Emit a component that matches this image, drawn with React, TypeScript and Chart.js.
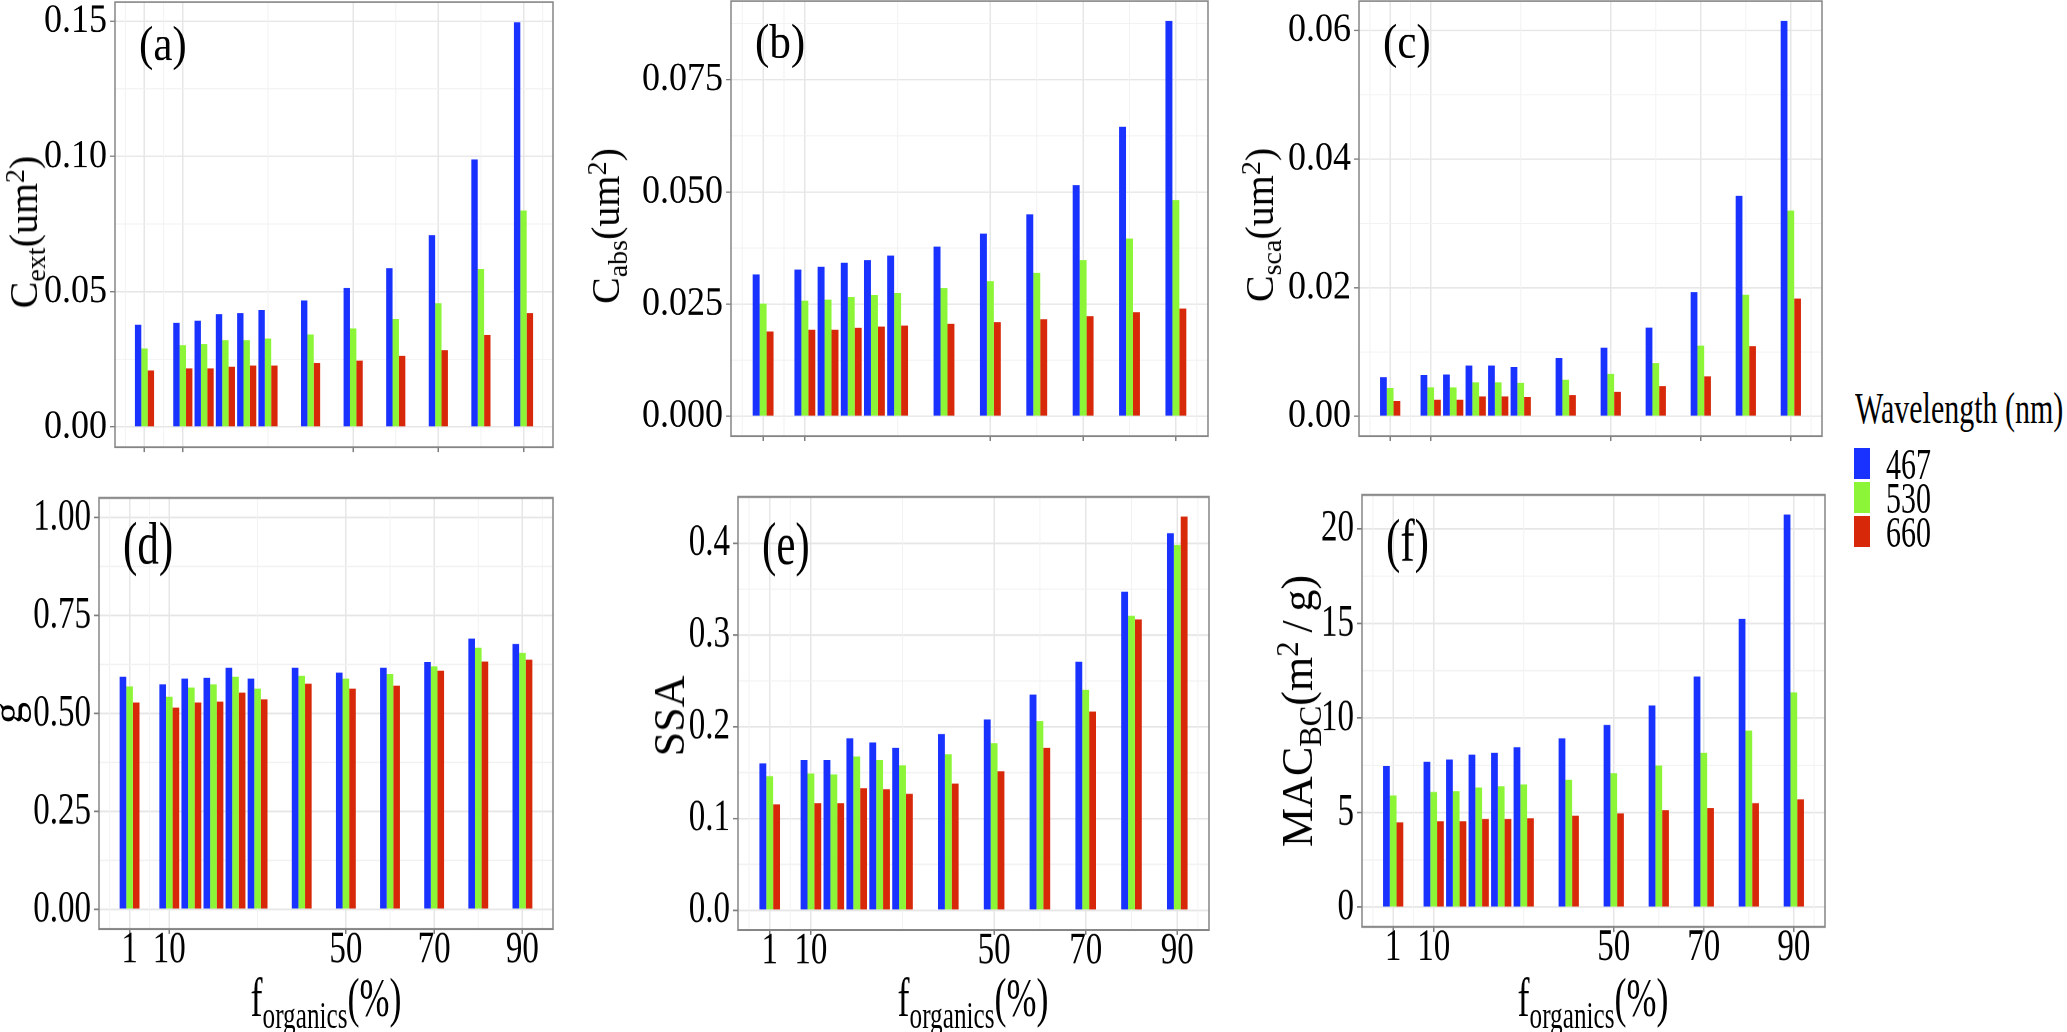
import React, { useEffect, useRef } from 'react';
import { Chart, registerables } from 'chart.js';

Chart.register(...registerables);

const FONT = "'Liberation Serif', 'Times New Roman', Times, serif";
Chart.defaults.font.family = FONT;

const BAR_COLORS = ['#1932ff', '#8cf537', '#d7280a'];

// organic mass fraction on the x axis (%)
const fOrganics = [1, 10, 15, 20, 25, 30, 40, 50, 60, 70, 80, 90];
const wavelengths = ['467', '530', '660'];
const xTicks = [1, 10, 50, 70, 90];
const xTickLabels = ['1', '10', '50', '70', '90'];
const xMinor = [-3.5, 5.5, 30, 60, 80, 94.5];

// (a) extinction cross section
const cext467 = [0.0378, 0.0385, 0.0393, 0.0417, 0.0421, 0.0432, 0.0468, 0.0514, 0.0587, 0.0709, 0.0989, 0.1496];
const cext530 = [0.029, 0.0302, 0.0306, 0.032, 0.032, 0.0327, 0.0342, 0.0364, 0.0399, 0.0457, 0.0583, 0.08];
const cext660 = [0.0209, 0.0216, 0.0216, 0.0223, 0.0227, 0.0227, 0.0237, 0.0245, 0.0263, 0.0284, 0.0341, 0.0421];
const cextTicks = [0, 0.05, 0.1, 0.15];
const cextTickLabels = ['0.00', '0.05', '0.10', '0.15'];
const cextMinor = [0.025, 0.075, 0.125];

// (b) absorption cross section
const cabs467 = [0.0316, 0.0327, 0.0333, 0.0342, 0.0348, 0.0358, 0.0378, 0.0407, 0.045, 0.0515, 0.0645, 0.0881];
const cabs530 = [0.0251, 0.0258, 0.026, 0.0266, 0.027, 0.0275, 0.0286, 0.0301, 0.032, 0.0348, 0.0396, 0.0482];
const cabs660 = [0.0189, 0.0193, 0.0193, 0.0197, 0.02, 0.0202, 0.0206, 0.021, 0.0216, 0.0223, 0.0232, 0.024];
const cabsTicks = [0, 0.025, 0.05, 0.075];
const cabsTickLabels = ['0.000', '0.025', '0.050', '0.075'];
const cabsMinor = [0.0125, 0.0375, 0.0625, 0.0875];

// (c) scattering cross section
const csca467 = [0.0061, 0.0064, 0.0065, 0.0079, 0.0079, 0.0077, 0.0091, 0.0107, 0.0138, 0.0193, 0.0343, 0.0615];
const csca530 = [0.0044, 0.0045, 0.0045, 0.0053, 0.0053, 0.0052, 0.0057, 0.0066, 0.0083, 0.011, 0.0189, 0.032];
const csca660 = [0.0024, 0.0026, 0.0026, 0.0031, 0.0031, 0.003, 0.0033, 0.0038, 0.0047, 0.0062, 0.0109, 0.0183];
const cscaTicks = [0, 0.02, 0.04, 0.06];
const cscaTickLabels = ['0.00', '0.02', '0.04', '0.06'];
const cscaMinor = [0.01, 0.03, 0.05];

// (d) asymmetry parameter
const g467 = [0.594, 0.574, 0.589, 0.591, 0.617, 0.589, 0.617, 0.604, 0.617, 0.631, 0.691, 0.677];
const g530 = [0.569, 0.543, 0.566, 0.574, 0.594, 0.563, 0.596, 0.589, 0.601, 0.62, 0.668, 0.654];
const g660 = [0.528, 0.515, 0.528, 0.53, 0.553, 0.536, 0.576, 0.563, 0.571, 0.609, 0.632, 0.637];
const gTicks = [0, 0.25, 0.5, 0.75, 1];
const gTickLabels = ['0.00', '0.25', '0.50', '0.75', '1.00'];
const gMinor = [0.125, 0.375, 0.625, 0.875];

// (e) single scattering albedo
const ssa467 = [0.16, 0.164, 0.164, 0.1875, 0.183, 0.177, 0.192, 0.208, 0.235, 0.271, 0.347, 0.411];
const ssa530 = [0.146, 0.149, 0.148, 0.1675, 0.164, 0.158, 0.17, 0.182, 0.206, 0.24, 0.321, 0.398];
const ssa660 = [0.1155, 0.1166, 0.1166, 0.133, 0.132, 0.127, 0.138, 0.1515, 0.177, 0.2165, 0.317, 0.429];
const ssaTicks = [0, 0.1, 0.2, 0.3, 0.4];
const ssaTickLabels = ['0.0', '0.1', '0.2', '0.3', '0.4'];
const ssaMinor = [0.05, 0.15, 0.25, 0.35];

// (f) mass absorption cross section of BC
const mac467 = [7.46, 7.69, 7.81, 8.06, 8.16, 8.46, 8.93, 9.64, 10.66, 12.19, 15.23, 20.75];
const mac530 = [5.91, 6.09, 6.14, 6.33, 6.39, 6.49, 6.74, 7.09, 7.49, 8.16, 9.34, 11.35];
const mac660 = [4.49, 4.54, 4.54, 4.66, 4.66, 4.71, 4.84, 4.96, 5.13, 5.24, 5.5, 5.7];
const macTicks = [0, 5, 10, 15, 20];
const macTickLabels = ['0', '5', '10', '15', '20'];
const macMinor = [2.5, 7.5, 12.5, 17.5];

const X_MIN = -5.925;
const X_MAX = 96.925;

type PanelSpec = {
  key: string;
  label: string;
  rect: number[]; // plot area on the page: left, top, right, bottom
  stretch: number;
  series: number[][];
  yTicks: number[];
  yTickLabels: string[];
  yMinor: number[];
  yRange?: number[];
  showX: boolean;
  yFont: number;
  labelDy: number;
};

const panels: PanelSpec[] = [
  { key: 'a', label: '(a)', rect: [115, 2, 553, 459], stretch: 1.12, series: [cext467, cext530, cext660], yTicks: cextTicks, yTickLabels: cextTickLabels, yMinor: cextMinor, showX: false, yFont: 36, labelDy: 40 },
  { key: 'b', label: '(b)', rect: [731, 1, 1208, 448], stretch: 1.12, series: [cabs467, cabs530, cabs660], yTicks: cabsTicks, yTickLabels: cabsTickLabels, yMinor: cabsMinor, showX: false, yFont: 36, labelDy: 39 },
  { key: 'c', label: '(c)', rect: [1359, 1, 1822, 448], stretch: 1.12, series: [csca467, csca530, csca660], yTicks: cscaTicks, yTickLabels: cscaTickLabels, yMinor: cscaMinor, showX: false, yFont: 36, labelDy: 39 },
  { key: 'd', label: '(d)', rect: [99, 498, 553, 929], stretch: 1.38, series: [g467, g530, g660], yTicks: gTicks, yTickLabels: gTickLabels, yMinor: gMinor, yRange: [-0.05, 1.05], showX: true, yFont: 33, labelDy: 36 },
  { key: 'e', label: '(e)', rect: [738, 497, 1209, 930], stretch: 1.38, series: [ssa467, ssa530, ssa660], yTicks: ssaTicks, yTickLabels: ssaTickLabels, yMinor: ssaMinor, showX: true, yFont: 33, labelDy: 37 },
  { key: 'f', label: '(f)', rect: [1362, 495, 1825, 927], stretch: 1.38, series: [mac467, mac530, mac660], yTicks: macTicks, yTickLabels: macTickLabels, yMinor: macMinor, showX: true, yFont: 33, labelDy: 36 },
];

function BarPanel({ p }: { p: PanelSpec }) {
  const ref = useRef<HTMLCanvasElement | null>(null);
  const [L, T, R, B] = p.rect;
  const s = p.stretch;
  const padL = 120;
  const padR = 30;
  const padT = 34;
  const plotH = (B - T) / s;
  const W = R - L + padL + padR;
  const H = Math.round(plotH + padT + (p.showX ? 70 : 14));
  const xAxisH = H - padT - plotH;

  useEffect(() => {
    if (!ref.current) return;
    const peak = Math.max(...p.series.flat());
    const yMin = p.yRange ? p.yRange[0] : -0.05 * peak;
    const yMax = p.yRange ? p.yRange[1] : 1.05 * peak;

    // minor grid lines, panel border and the (a)...(f) tag
    const decor = {
      id: 'decor',
      beforeDatasetsDraw(chart: any) {
        const { ctx, chartArea: a } = chart;
        const xs = chart.scales.x;
        const ys = chart.scales.y;
        ctx.save();
        ctx.strokeStyle = '#f2f2f2';
        ctx.lineWidth = 1;
        xMinor.forEach((v) => {
          const px = xs.getPixelForValue(v);
          if (px <= a.left || px >= a.right) return;
          ctx.beginPath();
          ctx.moveTo(px, a.top);
          ctx.lineTo(px, a.bottom);
          ctx.stroke();
        });
        ctx.lineWidth = 0.9;
        p.yMinor.forEach((v) => {
          const py = ys.getPixelForValue(v);
          if (py <= a.top || py >= a.bottom) return;
          ctx.beginPath();
          ctx.moveTo(a.left, py);
          ctx.lineTo(a.right, py);
          ctx.stroke();
        });
        ctx.restore();
      },
      afterDraw(chart: any) {
        const { ctx, chartArea: a } = chart;
        ctx.save();
        ctx.strokeStyle = '#858585';
        ctx.lineWidth = 1.5;
        ctx.strokeRect(a.left, a.top, a.right - a.left, a.bottom - a.top);
        ctx.fillStyle = '#000';
        ctx.font = `43px ${FONT}`;
        ctx.textAlign = 'left';
        ctx.textBaseline = 'middle';
        ctx.fillText(p.label, a.left + 24, a.top + p.labelDy);
        ctx.restore();
      },
    };

    const chart = new Chart(ref.current, {
      type: 'bar',
      data: {
        datasets: wavelengths.map((w, k) => ({
          label: w,
          data: fOrganics.map((x, i) => ({ x, y: p.series[k][i] })),
          backgroundColor: BAR_COLORS[k],
          borderWidth: 0,
          categoryPercentage: 0.9,
          barPercentage: 1,
        })),
      },
      options: {
        responsive: false,
        animation: false,
        devicePixelRatio: 2,
        events: [],
        layout: { padding: { top: padT, right: padR, left: 0, bottom: 0 } },
        plugins: { legend: { display: false }, tooltip: { enabled: false } },
        scales: {
          x: {
            type: 'linear',
            min: X_MIN,
            max: X_MAX,
            offset: false,
            afterBuildTicks: (sc: any) => {
              sc.ticks = xTicks.map((value) => ({ value }));
            },
            afterFit: (sc: any) => {
              sc.height = xAxisH;
            },
            grid: { offset: false, color: '#e6e6e6', lineWidth: 1.5, tickLength: 5 / s, tickColor: '#7f7f7f', tickWidth: 1.5 },
            border: { display: false },
            ticks: {
              autoSkip: false,
              maxRotation: 0,
              padding: -8,
              color: '#000',
              font: { family: FONT, size: 33 },
              callback: (_v: any, i: number) => (p.showX ? xTickLabels[i] : ''),
            },
          },
          y: {
            type: 'linear',
            min: yMin,
            max: yMax,
            afterBuildTicks: (sc: any) => {
              sc.ticks = p.yTicks.map((value) => ({ value }));
            },
            afterFit: (sc: any) => {
              sc.width = padL;
            },
            grid: { color: '#e6e6e6', lineWidth: 1.2, tickLength: 5, tickColor: '#7f7f7f', tickWidth: 1.2 },
            border: { display: false },
            ticks: {
              padding: 3,
              color: '#000',
              font: { family: FONT, size: p.yFont },
              callback: (_v: any, i: number) => p.yTickLabels[i],
            },
          },
        },
      },
      plugins: [decor],
    } as any);

    return () => chart.destroy();
  }, []);

  return (
    <div
      style={{
        position: 'absolute',
        left: L - padL,
        top: T - padT * s,
        width: W,
        height: H,
        transform: `scaleY(${s})`,
        transformOrigin: '0 0',
      }}
    >
      <canvas ref={ref} width={W} height={H} style={{ width: W, height: H, display: 'block' }} />
    </div>
  );
}

const Sub = ({ children }: { children: React.ReactNode }) => (
  <span style={{ fontSize: '0.7em', position: 'relative', top: '0.3em' }}>{children}</span>
);
const Sup = ({ children }: { children: React.ReactNode }) => (
  <span style={{ fontSize: '0.7em', position: 'relative', top: '-0.45em' }}>{children}</span>
);

function YTitle({ x, y, size, children }: { x: number; y: number; size: number; children: React.ReactNode }) {
  return (
    <div
      style={{
        position: 'absolute',
        left: x,
        top: y,
        transform: 'translate(-50%, -50%) rotate(-90deg)',
        fontSize: size,
        lineHeight: 1,
        whiteSpace: 'nowrap',
        color: '#000',
      }}
    >
      {children}
    </div>
  );
}

function XTitle({ x }: { x: number }) {
  return (
    <div
      style={{
        position: 'absolute',
        left: x,
        top: 998,
        transform: 'translate(-50%, -50%) scaleY(1.5)',
        fontSize: 36,
        lineHeight: 1,
        whiteSpace: 'nowrap',
        color: '#000',
      }}
    >
      f<Sub>organics</Sub>(%)
    </div>
  );
}

export default function App() {
  return (
    <div
      style={{
        position: 'absolute',
        left: 0,
        top: 0,
        width: 2067,
        height: 1032,
        background: '#fff',
        overflow: 'hidden',
        fontFamily: FONT,
      }}
    >
      {panels.map((p) => (
        <BarPanel key={p.key} p={p} />
      ))}

      <YTitle x={24} y={232} size={40}>
        C<Sub>ext</Sub>(um<Sup>2</Sup>)
      </YTitle>
      <YTitle x={606} y={226} size={40}>
        C<Sub>abs</Sub>(um<Sup>2</Sup>)
      </YTitle>
      <YTitle x={1260} y={225} size={40}>
        C<Sub>sca</Sub>(um<Sup>2</Sup>)
      </YTitle>
      <YTitle x={8} y={713} size={44}>
        g
      </YTitle>
      <YTitle x={670} y={716} size={44}>
        SSA
      </YTitle>
      <YTitle x={1298} y={711} size={44}>
        MAC<Sub>BC</Sub>(m<Sup>2</Sup>{'\u2009'}/{'\u2009'}g)
      </YTitle>

      <XTitle x={326} />
      <XTitle x={973} />
      <XTitle x={1593} />

      <div
        style={{
          position: 'absolute',
          left: 1855,
          top: 393,
          fontSize: 30,
          lineHeight: '30px',
          transform: 'scaleY(1.45)',
          transformOrigin: 'left center',
          whiteSpace: 'nowrap',
        }}
      >
        Wavelength (nm)
      </div>
      {wavelengths.map((w, k) => (
        <React.Fragment key={w}>
          <div
            style={{
              position: 'absolute',
              left: 1854,
              top: 448 + 34 * k,
              width: 16,
              height: 31,
              background: BAR_COLORS[k],
            }}
          />
          <div
            style={{
              position: 'absolute',
              left: 1886,
              top: 448.5 + 34 * k,
              fontSize: 30,
              lineHeight: '30px',
              transform: 'scaleY(1.45)',
              transformOrigin: 'left center',
            }}
          >
            {w}
          </div>
        </React.Fragment>
      ))}
    </div>
  );
}
